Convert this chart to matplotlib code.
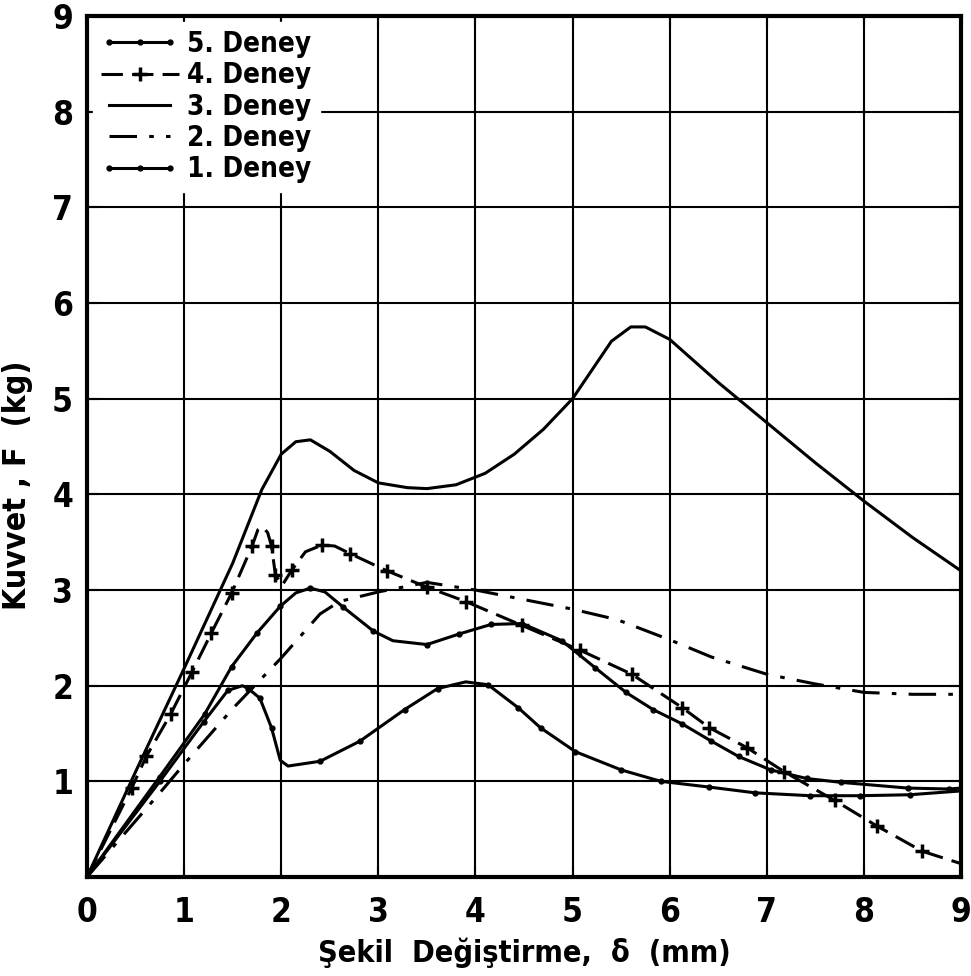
import matplotlib
matplotlib.use('Agg')
import matplotlib.pyplot as plt
from matplotlib.legend_handler import HandlerLine2D

plt.rcParams['font.family'] = ['DejaVu Sans']
plt.rcParams['font.stretch'] = 'condensed'
plt.rcParams['font.weight'] = 'bold'
plt.rcParams['axes.labelweight'] = 'bold'

# 5. Deney (solid, dot markers)
x5 = [0, 0.75, 1.21, 1.49, 1.75, 1.99, 2.15, 2.30, 2.45, 2.64, 2.95, 3.15, 3.50, 3.83, 4.16, 4.48,
      4.89, 5.23, 5.55, 5.83, 6.13, 6.43, 6.71, 7.04, 7.41, 7.76, 8.45, 8.88, 9.0]
y5 = [0, 1.05, 1.70, 2.20, 2.55, 2.83, 2.97, 3.02, 2.98, 2.82, 2.57, 2.47, 2.43, 2.54, 2.64, 2.65,
      2.47, 2.19, 1.93, 1.75, 1.60, 1.42, 1.26, 1.12, 1.03, 0.99, 0.93, 0.92, 0.93]
mk5 = [1, 2, 3, 4, 5, 7, 9, 10, 12, 13, 14, 15, 16, 17, 18, 19, 20, 21, 22, 23, 24, 25, 26, 27]

# 4. Deney (dashed, + markers)
x4 = [0, 0.46, 0.61, 0.86, 1.08, 1.28, 1.49, 1.70, 1.76, 1.81, 1.86, 1.90, 1.94, 2.01, 2.11, 2.25,
      2.42, 2.55, 2.71, 3.09, 3.50, 3.90, 4.48, 5.08, 5.61, 6.13, 6.41, 6.80, 7.18, 7.70, 8.14, 8.60, 9.0]
y4 = [0, 0.93, 1.26, 1.70, 2.14, 2.55, 2.97, 3.46, 3.63, 3.66, 3.60, 3.46, 3.16, 3.05, 3.21, 3.40,
      3.47, 3.46, 3.38, 3.20, 3.03, 2.88, 2.63, 2.37, 2.12, 1.77, 1.56, 1.35, 1.10, 0.80, 0.53, 0.27, 0.14]
mk4 = [1, 2, 3, 4, 5, 6, 7, 11, 12, 14, 16, 18, 19, 20, 21, 22, 23, 24, 25, 26, 27, 28, 29, 30, 31]

# 3. Deney (solid)
x3 = [0, 0.5, 1.0, 1.5, 1.8, 2.0, 2.15, 2.3, 2.5, 2.75, 3.0, 3.3, 3.5, 3.8, 4.1, 4.4, 4.7, 5.0,
      5.2, 5.4, 5.6, 5.75, 6.0, 6.5, 7.0, 7.5, 8.0, 8.5, 9.0]
y3 = [0, 1.10, 2.18, 3.28, 4.05, 4.42, 4.55, 4.57, 4.45, 4.25, 4.12, 4.07, 4.06, 4.10, 4.22, 4.42,
      4.68, 5.00, 5.30, 5.60, 5.75, 5.75, 5.62, 5.17, 4.75, 4.33, 3.93, 3.55, 3.20]

# 2. Deney (dash-dot)
x2 = [0, 0.75, 1.0, 1.5, 2.0, 2.4, 2.6, 3.0, 3.5, 4.0, 4.5, 5.0, 5.46, 6.0, 6.43, 7.0, 7.49, 8.0, 8.5, 9.0]
y2 = [0, 0.88, 1.18, 1.76, 2.29, 2.75, 2.88, 2.98, 3.08, 3.00, 2.90, 2.80, 2.69, 2.48, 2.30, 2.12,
      2.02, 1.93, 1.91, 1.91]

# 1. Deney (solid, dot markers)
x1 = [0, 0.75, 1.20, 1.45, 1.60, 1.66, 1.78, 1.90, 1.99, 2.07, 2.40, 2.81, 3.27, 3.61, 3.90, 4.13,
      4.44, 4.67, 5.03, 5.50, 5.91, 6.41, 6.88, 7.45, 7.96, 8.47, 9.0]
y1 = [0, 1.00, 1.62, 1.95, 2.00, 1.97, 1.87, 1.56, 1.22, 1.16, 1.21, 1.42, 1.75, 1.97, 2.04, 2.01,
      1.77, 1.56, 1.31, 1.12, 1.00, 0.94, 0.88, 0.85, 0.85, 0.86, 0.90]
mk1 = [1, 2, 3, 5, 6, 7, 10, 11, 12, 13, 15, 16, 17, 18, 19, 20, 21, 22, 23, 24, 25]

ticks = list(range(10))

fig = plt.figure(figsize=(9.71, 9.76), dpi=100)
ax = fig.add_axes([0.0896, 0.1014, 0.9001, 0.8822])

lw = 2.2
ax.plot(x5, y5, color='black', lw=lw, marker='o', ms=3.5, markevery=mk5, label='5. Deney')
l4, = ax.plot(x4, y4, color='black', lw=lw, ls=(0, (7, 3)), marker='+', ms=10, mew=2.5,
              markevery=mk4, label='4. Deney')
ax.plot(x3, y3, color='black', lw=lw, label='3. Deney')
ax.plot(x2, y2, color='black', lw=lw, ls=(0, (9, 4, 1.5, 4)), label='2. Deney')
ax.plot(x1, y1, color='black', lw=lw, marker='o', ms=3.5, markevery=mk1, label='1. Deney')

ax.set_xlim(0, 9)
ax.set_ylim(0, 9)
ax.set_xticks(ticks)
ax.set_yticks(ticks)
ax.set_yticklabels([''] + [str(t) for t in ticks[1:]])
ax.grid(True, color='black', lw=1.5)
ax.set_axisbelow(True)
for s in ax.spines.values():
    s.set_linewidth(3)
ax.tick_params(direction='in', length=8, width=1.5, top=True, right=True, labelsize=24)
ax.tick_params(axis='x', pad=14)
ax.tick_params(axis='y', pad=10)

ax.set_xlabel('Şekil  Değiştirme,  δ  (mm)', fontsize=22, labelpad=6)
ax.set_ylabel('Kuvvet , F  (kg)', fontsize=23)
ax.yaxis.set_label_coords(-0.062, 0.455)

leg = ax.legend(loc='upper left', fontsize=20, handlelength=2.8, labelspacing=0.12,
                handletextpad=0.3, borderaxespad=0.2, borderpad=0.3, numpoints=3,
                frameon=True, fancybox=False, edgecolor='white', facecolor='white',
                framealpha=1, handler_map={l4: HandlerLine2D(numpoints=1)})
leg.set_zorder(5)

fig.savefig('out.png', dpi=100)
